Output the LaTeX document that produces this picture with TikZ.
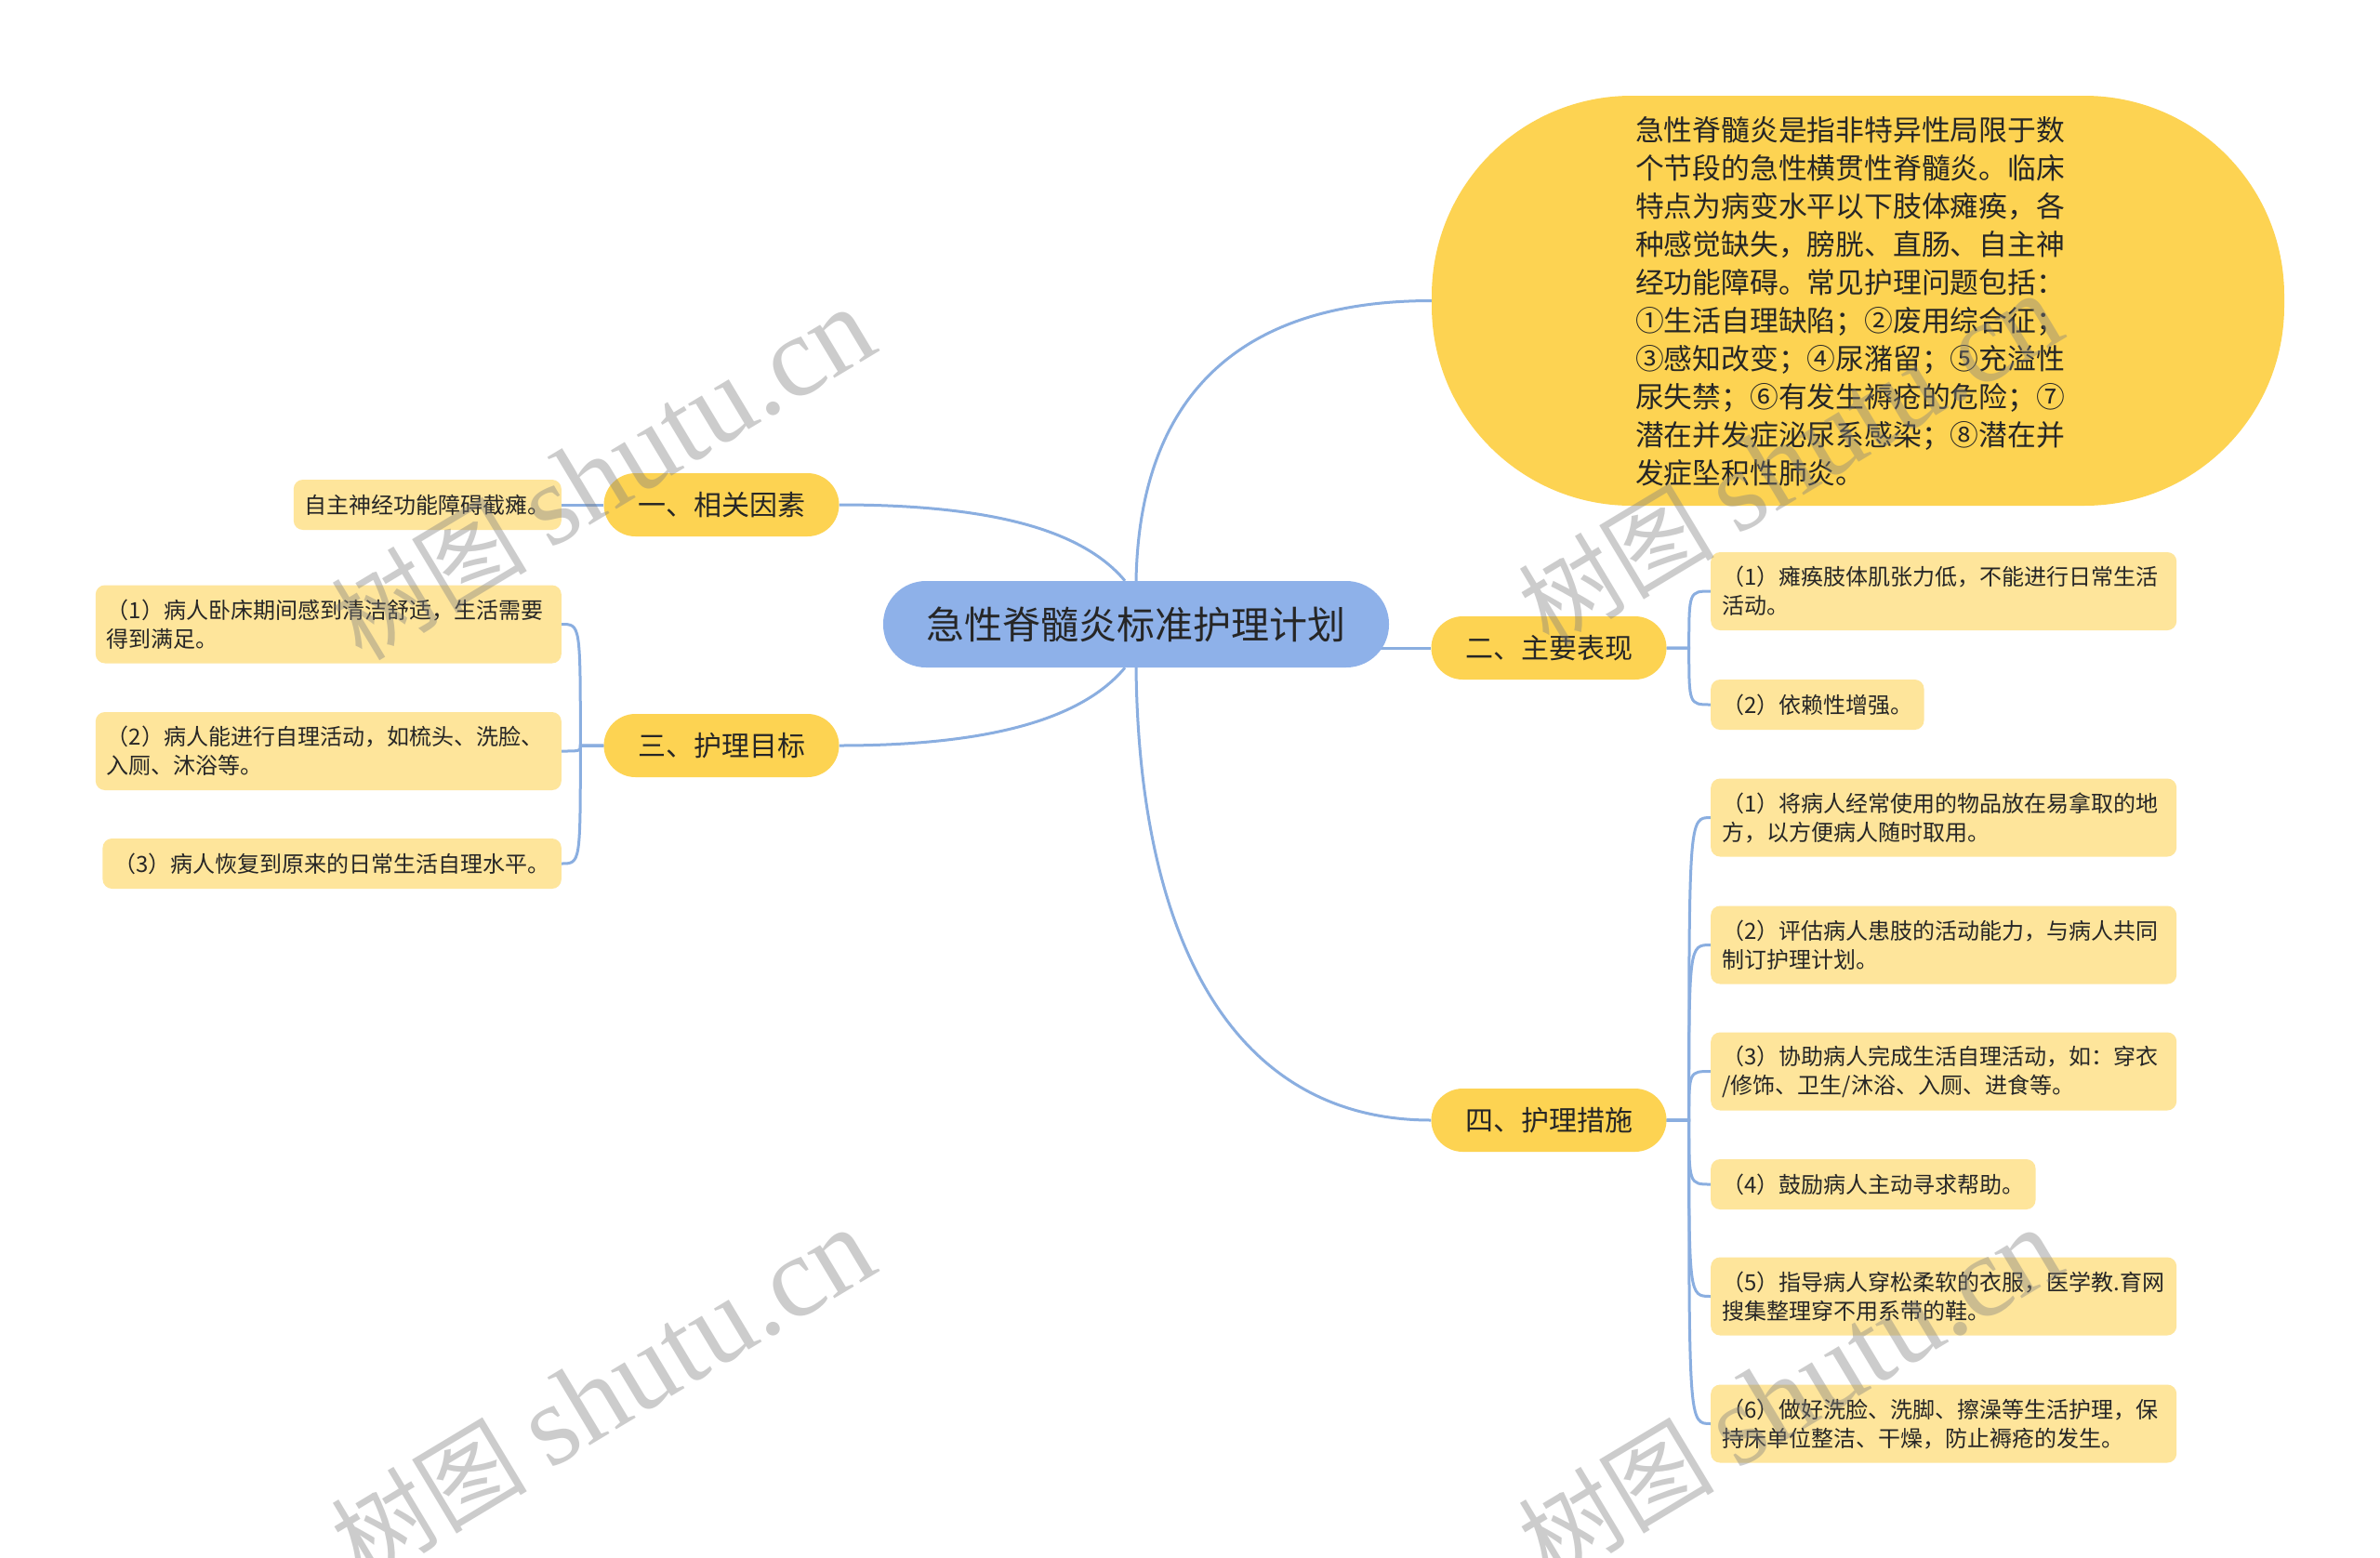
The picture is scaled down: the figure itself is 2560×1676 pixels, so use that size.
\documentclass[tikz,border=0pt]{standalone}
\usepackage{fontspec}
\setmainfont{Noto Sans CJK SC}
\newfontfamily\wmlatin{Liberation Serif}
\usetikzlibrary{backgrounds,calc}
\definecolor{linec}{HTML}{8AAEE0}
\definecolor{rootc}{HTML}{8EB1E9}
\definecolor{mainc}{HTML}{FDD352}
\definecolor{leafc}{HTML}{FEE59B}
\definecolor{txtc}{HTML}{262626}
\pgfdeclarelayer{bgzero}
\pgfsetlayers{bgzero,background,main}
\begin{document}
\begin{tikzpicture}[x=1pt,y=-1pt,
  rootbox/.style={fill=rootc, rounded corners=46pt, minimum width=544pt, minimum height=93pt, inner sep=0pt, text=txtc, font=\fontsize{41}{48}\selectfont},
  bigbox/.style={fill=mainc, rounded corners=215pt, minimum width=917pt, minimum height=441pt, inner sep=0pt},
  bigtext/.style={inner sep=0pt, text=txtc, align=left, font=\fontsize{30.8}{41}\selectfont},
  mainbox/.style={fill=mainc, rounded corners=34pt, minimum width=253pt, minimum height=68pt, inner sep=0pt, text=txtc, font=\fontsize{30}{36}\selectfont},
  leafbox/.style={fill=leafc, rounded corners=10pt, inner xsep=12pt, inner ysep=0pt, text=txtc, font=\fontsize{24}{31}\selectfont},
  leaftwo/.style={leafbox, text width=477pt, minimum height=84pt, align=left},
  leafone/.style={leafbox, minimum height=54pt},
  link/.style={draw=linec, line width=3pt},
  wm/.style={text=gray, text opacity=0.4, rotate=31, inner sep=0pt, font=\fontsize{106}{116}\selectfont}
]
\useasboundingbox (0,0) rectangle (2560,1676);
\begin{pgfonlayer}{bgzero}
\fill[white] (0,0) rectangle (2560,1676);
\end{pgfonlayer}

% root and main topics
\node[rootbox] (c) at (1222,671.5) {急性脊髓炎标准护理计划};
\node[bigbox] (b) at (1998.5,323.5) {};
\node[bigtext] (bt) at (1990,324) {急性脊髓炎是指非特异性局限于数\\个节段的急性横贯性脊髓炎。临床\\特点为病变水平以下肢体瘫痪，各\\种感觉缺失，膀胱、直肠、自主神\\经功能障碍。常见护理问题包括：\\①生活自理缺陷；②废用综合征；\\③感知改变；④尿潴留；⑤充溢性\\尿失禁；⑥有发生褥疮的危险；⑦\\潜在并发症泌尿系感染；⑧潜在并\\发症坠积性肺炎。};
\node[mainbox] (n1) at (776,543) {一、相关因素};
\node[mainbox] (n3) at (776,802) {三、护理目标};
\node[mainbox] (n2) at (1666,697) {二、主要表现};
\node[mainbox] (n4) at (1666,1205) {四、护理措施};

% left leaves
\node[leafone, anchor=east] (la) at (604,543) {自主神经功能障碍截瘫。};
\node[leaftwo, anchor=east] (lb1) at (604,671.5) {（1）病人卧床期间感到清洁舒适，生活需要\\得到满足。};
\node[leaftwo, anchor=east] (lb2) at (604,808) {（2）病人能进行自理活动，如梳头、洗脸、\\入厕、沐浴等。};
\node[leafone, anchor=east] (lb3) at (604,929) {（3）病人恢复到原来的日常生活自理水平。};

% right leaves (二)
\node[leaftwo, anchor=west] (r1) at (1840,636) {（1）瘫痪肢体肌张力低，不能进行日常生活\\活动。};
\node[leafone, anchor=west] (r2) at (1840,758) {（2）依赖性增强。};

% right leaves (四)
\node[leaftwo, anchor=west] (s1) at (1840,879.5) {（1）将病人经常使用的物品放在易拿取的地\\方，以方便病人随时取用。};
\node[leaftwo, anchor=west] (s2) at (1840,1016.5) {（2）评估病人患肢的活动能力，与病人共同\\制订护理计划。};
\node[leaftwo, anchor=west] (s3) at (1840,1152.5) {（3）协助病人完成生活自理活动，如：穿衣\\/修饰、卫生/沐浴、入厕、进食等。};
\node[leafone, anchor=west] (s4) at (1840,1274) {（4）鼓励病人主动寻求帮助。};
\node[leaftwo, anchor=west] (s5) at (1840,1394.5) {（5）指导病人穿松柔软的衣服，医学教.育网\\搜集整理穿不用系带的鞋。};
\node[leaftwo, anchor=west] (s6) at (1840,1531.5) {（6）做好洗脸、洗脚、擦澡等生活护理，保\\持床单位整洁、干燥，防止褥疮的发生。};

% junction points
\coordinate (j3) at ($(n3.west)+(-25,0)$);
\coordinate (j2) at ($(n2.east)+(24,0)$);
\coordinate (j4) at ($(n4.east)+(24,0)$);

\begin{pgfonlayer}{background}
% root connectors
\draw[link] ($(c.north)+(-12,0)$) .. controls ($(c.north)+(-62,-60)$) and ($(n1.east)+(148,0)$) .. (n1.east);
\draw[link] ($(c.south)+(-12,0)$) .. controls ($(c.south)+(-62,60)$) and ($(n3.east)+(148,0)$) .. (n3.east);
\draw[link] (c.north) .. controls ($(c.north)+(3,-164)$) and ($(b.west)+(-240,0)$) .. (b.west);
\draw[link] (c.center |- n2.west) -- (n2.west);
\draw[link] (c.south) .. controls ($(c.south)+(3,282)$) and ($(n4.west)+(-220,0)$) .. (n4.west);
% 一
\draw[link] (n1.west) -- (la.east);
% 三
\foreach \l in {lb1,lb2,lb3}{
  \draw[link] (n3.west) -- (j3) .. controls (j3 |- \l.east) and (j3 |- \l.east) .. (\l.east);
}
% 二
\foreach \l in {r1,r2}{
  \draw[link] (n2.east) -- (j2) .. controls (j2 |- \l.west) and (j2 |- \l.west) .. (\l.west);
}
% 四
\foreach \l in {s1,s2,s3,s4,s5,s6}{
  \draw[link] (n4.east) -- (j4) .. controls (j4 |- \l.west) and (j4 |- \l.west) .. (\l.west);
}
\end{pgfonlayer}

% watermarks
\node[wm] (wm1) at (648,510) {树图 {\wmlatin\fontsize{124}{130}\selectfont shutu.cn}};
\node[wm] (wm2) at (648,1500) {树图 {\wmlatin\fontsize{124}{130}\selectfont shutu.cn}};
\node[wm] (wm3) at (1925,495) {树图 {\wmlatin\fontsize{124}{130}\selectfont shutu.cn}};
\node[wm] (wm4) at (1925,1500) {树图 {\wmlatin\fontsize{124}{130}\selectfont shutu.cn}};
\end{tikzpicture}
\end{document}
